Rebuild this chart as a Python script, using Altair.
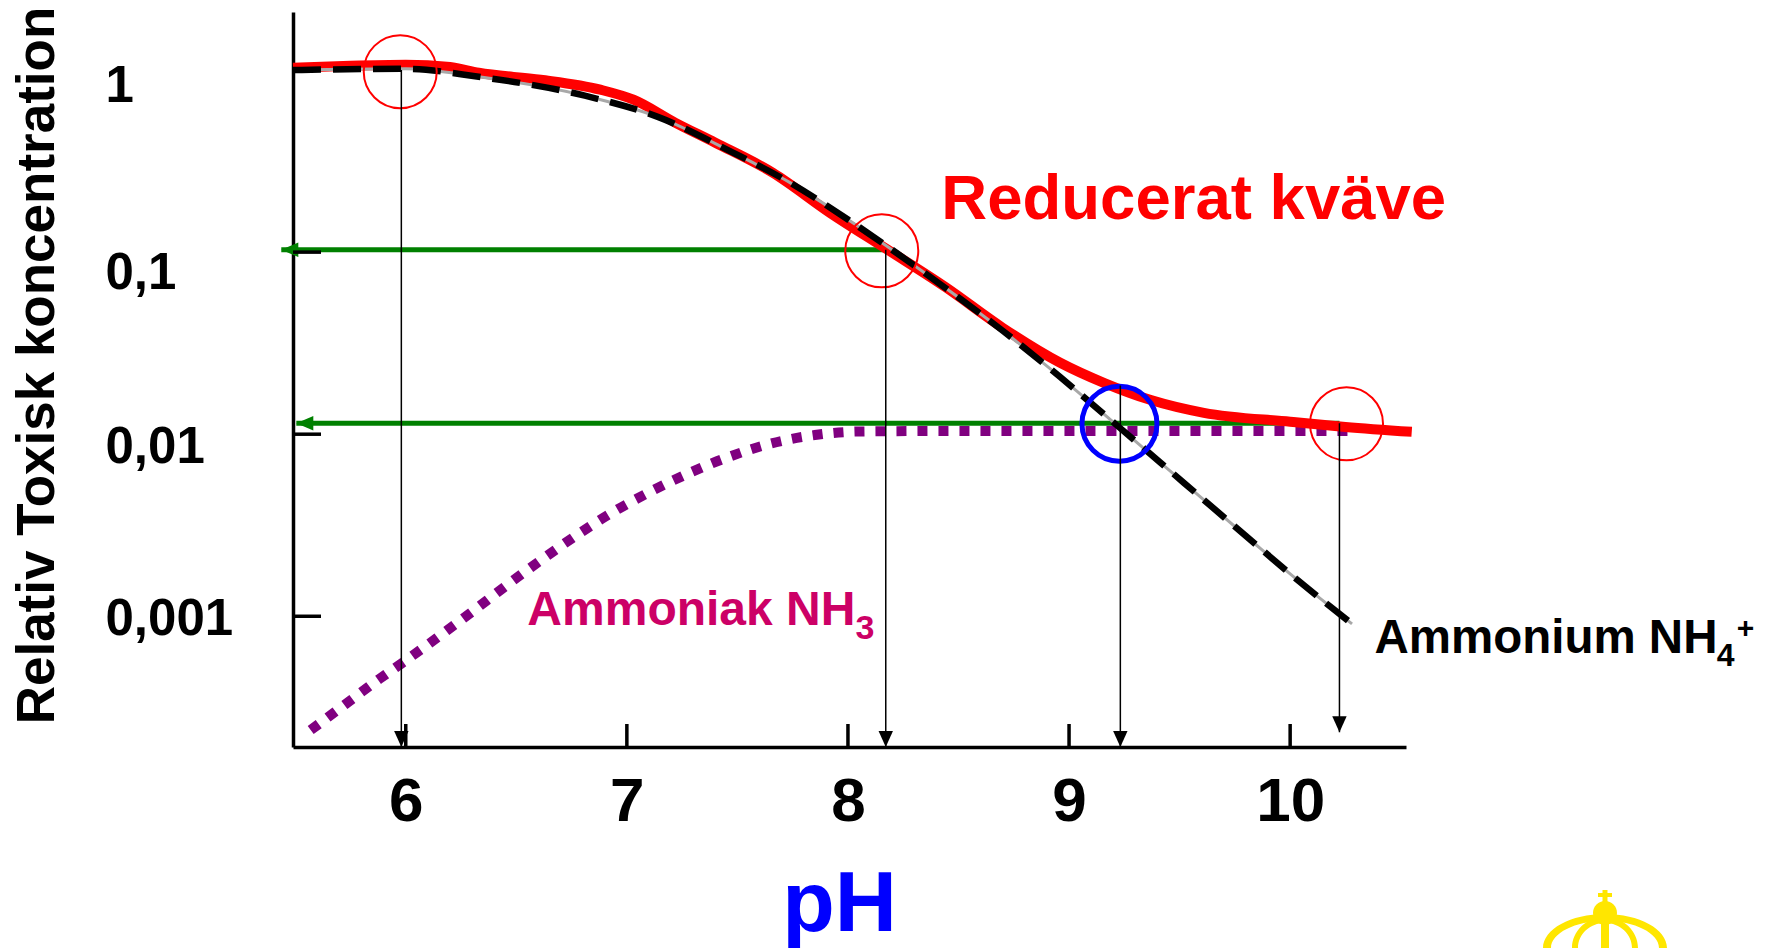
import altair as alt
import pandas as pd

# ---------------- data ----------------
x_domain = [5.49, 10.524]
y_domain = [1.914e-4, 2.084]
x_tick_values = [6, 7, 8, 9, 10]
x_tick_labels = ["6", "7", "8", "9", "10"]
y_tick_values = [1, 0.1, 0.01, 0.001]
y_tick_labels = ["1", "0,1", "0,01", "0,001"]

# Reducerat kväve (red solid)
red_ph = [5.49, 5.75, 6.00, 6.20, 6.33, 6.61, 6.88, 7.03, 7.22, 7.40, 7.66,
          7.92, 8.18, 8.44, 8.70, 8.96, 9.16, 9.37, 9.61, 10.00, 10.25, 10.55]
red_val = [1.03, 1.057, 1.07, 1.04, 0.966, 0.885, 0.78, 0.687, 0.513, 0.399,
           0.273, 0.164, 0.103, 0.0644, 0.0384, 0.0247, 0.0191, 0.0154,
           0.0131, 0.0117, 0.01096, 0.0103]

# Ammonium NH4+ (black dashed)
nh4_ph = [5.49, 6.00, 6.33, 6.81, 7.14, 7.48, 7.74, 8.00, 8.18, 8.44, 8.70,
          8.96, 9.23, 9.52, 9.80, 10.00, 10.28]
nh4_val = [1.0, 1.016, 0.918, 0.723, 0.553, 0.352, 0.240, 0.151, 0.107,
           0.0637, 0.0370, 0.0206, 0.01083, 0.0054, 0.00276, 0.00171, 0.000908]

# Ammoniak NH3 (purple dotted)
nh3_ph = [5.57, 5.72, 5.88, 5.98, 6.14, 6.30, 6.45, 6.63, 6.76, 6.92, 7.10,
          7.28, 7.46, 7.64, 7.85, 8.06, 8.50, 9.00, 9.50, 10.00, 10.28]
nh3_val = [2.37e-4, 3.24e-4, 4.52e-4, 5.50e-4, 7.59e-4, 1.06e-3, 1.46e-3,
           2.11e-3, 2.72e-3, 3.63e-3, 4.79e-3, 6.10e-3, 7.50e-3, 8.81e-3,
           9.89e-3, 1.035e-2, 1.042e-2, 1.042e-2, 1.042e-2, 1.042e-2, 1.042e-2]

# vertical black arrows (pH, from value, tip value)
varrow_ph = [5.98, 8.171, 9.232, 10.223]
varrow_top = [1.0, 0.103, 0.0185, 0.01148]
varrow_tip = [1.914e-4, 1.914e-4, 1.914e-4, 2.31e-4]

# horizontal green arrows (value, start pH, tip pH)
garrow_val = [0.103, 0.01148]
garrow_start = [8.171, 10.223]
garrow_tip = [5.437, 5.505]

# highlight circles
circle_ph = [5.975, 8.153, 10.255]
circle_val = [0.98, 0.1016, 0.0114]
blue_circle_ph = [9.228]
blue_circle_val = [0.0114]

# text annotations
red_text = ["Reducerat kväve"]
red_text_ph = [8.4225]
red_text_val = [0.1524]

nh3_text = ["Ammoniak NH"]
nh3_text_ph = [6.550]
nh3_text_val = [8.95e-4]
nh3_sub = ["3"]
nh3_sub_ph = [8.034]
nh3_sub_val = [7.50e-4]

nh4_text = ["Ammonium NH"]
nh4_text_ph = [10.381]
nh4_text_val = [6.25e-4]
nh4_sub = ["4"]
nh4_sub_ph = [11.93]
nh4_sub_val = [5.33e-4]
nh4_sup = ["+"]
nh4_sup_ph = [12.02]
nh4_sup_val = [7.55e-4]

# ---------------- styling ----------------
FONT = "Liberation Sans"
RED = "#FF0000"
GREEN = "#008000"
PURPLE = "#800080"
MAGENTA = "#CC0066"
BLUE = "#0000FF"
YELLOW = "#FFE600"


def label_expr(vals, labels):
    expr = "''"
    for v, lab in reversed(list(zip(vals, labels))):
        expr = f"abs(datum.value - {v}) < {abs(v) * 0.01} ? '{lab}' : ({expr})"
    return expr


x_scale = alt.Scale(domain=x_domain, nice=False, zero=False)
y_scale = alt.Scale(type="log", domain=y_domain, nice=False)

x_axis = alt.Axis(
    values=x_tick_values, labelExpr=label_expr(x_tick_values, x_tick_labels),
    title="pH", titleFont=FONT, titleFontSize=86, titleFontWeight="bold",
    titleColor=BLUE, titleX=546, titleY=183, titleAlign="center",
    titleBaseline="alphabetic",
    labelFont=FONT, labelFontSize=62, labelFontWeight="bold", labelColor="black",
    labelPadding=24, labelBaseline="top", labelFlush=False, labelOverlap=False,
    tickSize=0, domainColor="black", domainWidth=3.5, grid=False,
)
y_axis = alt.Axis(
    values=y_tick_values, labelExpr=label_expr(y_tick_values, y_tick_labels),
    title="Relativ Toxisk koncentration", titleFont=FONT, titleFontSize=53,
    titleFontWeight="bold", titleColor="black", titleAngle=270,
    titleX=-240, titleY=353, titleAlign="center", titleBaseline="alphabetic",
    labelFont=FONT, labelFontSize=51, labelFontWeight="bold", labelColor="black",
    labelAlign="left", labelBaseline="middle", labelPadding=188,
    labelOffset={"condition": [{"test": "datum.value >= 0.5", "value": 16},
                               {"test": "datum.value >= 0.05", "value": 21},
                               {"test": "datum.value >= 0.005", "value": 13}],
                 "value": 3},
    labelFlush=False, labelOverlap=False,
    tickSize=0, domainColor="black", domainWidth=3.5, grid=False,
)


def X(field):
    return alt.X(field, type="quantitative", scale=x_scale, axis=x_axis)


def Y(field):
    return alt.Y(field, type="quantitative", scale=y_scale, axis=y_axis)


# green horizontal arrows
g_df = pd.DataFrame({"v": garrow_val, "ph": garrow_start, "tip": garrow_tip})
green_lines = alt.Chart(g_df).mark_rule(color=GREEN, strokeWidth=5).encode(
    x=X("ph"), x2="tip", y=Y("v"))
green_heads = alt.Chart(g_df).mark_point(
    shape="M0,0L1,-0.43L1,0.43Z", filled=True, color=GREEN, opacity=1, size=1156,
    strokeWidth=0
).encode(x=X("tip"), y=Y("v"))

# curves
nh3_df = pd.DataFrame({"ph": nh3_ph, "v": nh3_val})
nh3_line = alt.Chart(nh3_df).mark_line(
    color=PURPLE, strokeWidth=10, strokeDash=[10, 11], strokeCap="butt",
    interpolate="monotone").encode(x=X("ph"), y=Y("v"))

red_df = pd.DataFrame({"ph": red_ph, "v": red_val})
red_line = alt.Chart(red_df).mark_line(
    color=RED, strokeWidth=10, interpolate="monotone").encode(x=X("ph"), y=Y("v"))

nh4_df = pd.DataFrame({"ph": nh4_ph, "v": nh4_val})
nh4_shadow = alt.Chart(nh4_df).mark_line(
    color="#a8a8a8", strokeWidth=3, interpolate="monotone").encode(x=X("ph"), y=Y("v"))
nh4_line = alt.Chart(nh4_df).mark_line(
    color="black", strokeWidth=6.5, strokeDash=[28, 12], interpolate="monotone"
).encode(x=X("ph"), y=Y("v"))

# circles
c_df = pd.DataFrame({"ph": circle_ph, "v": circle_val})
red_circles = alt.Chart(c_df).mark_point(
    shape="circle", filled=False, color=RED, strokeWidth=2, size=5329, opacity=1
).encode(x=X("ph"), y=Y("v"))
b_df = pd.DataFrame({"ph": blue_circle_ph, "v": blue_circle_val})
blue_circle = alt.Chart(b_df).mark_point(
    shape="circle", filled=False, color=BLUE, strokeWidth=5, size=5625, opacity=1
).encode(x=X("ph"), y=Y("v"))

# vertical arrows
v_df = pd.DataFrame({"ph": varrow_ph, "v": varrow_top, "tip": varrow_tip})
v_lines = alt.Chart(v_df).mark_rule(color="black", strokeWidth=1.5).encode(
    x=X("ph"), y=Y("v"), y2="tip")
v_heads = alt.Chart(v_df).mark_point(
    shape="M0,0L-0.45,-1L0.45,-1Z", filled=True, color="black", opacity=1, size=1024,
    strokeWidth=0
).encode(x=X("ph"), y=Y("tip"))

# inward axis ticks
xt_df = pd.DataFrame({"ph": x_tick_values, "v": [y_domain[0]] * len(x_tick_values)})
x_ticks = alt.Chart(xt_df).mark_point(
    shape="M0,0L0,-1", filled=False, color="black", strokeWidth=3.5, size=2116,
    opacity=1).encode(x=X("ph"), y=Y("v"))
yt_df = pd.DataFrame({"ph": [x_domain[0]] * len(y_tick_values), "v": y_tick_values})
y_ticks = alt.Chart(yt_df).mark_point(
    shape="M0,0L1,0", filled=False, color="black", strokeWidth=3.5, size=3136,
    opacity=1).encode(x=X("ph"), y=Y("v"))


def text_layer(texts, phs, vals, size, color):
    df = pd.DataFrame({"t": texts, "ph": phs, "v": vals})
    return alt.Chart(df).mark_text(
        font=FONT, fontSize=size, fontWeight="bold", color=color,
        align="left", baseline="alphabetic"
    ).encode(x=X("ph"), y=Y("v"), text="t")


texts = [
    text_layer(red_text, red_text_ph, red_text_val, 63.5, RED),
    text_layer(nh3_text, nh3_text_ph, nh3_text_val, 48, MAGENTA),
    text_layer(nh3_sub, nh3_sub_ph, nh3_sub_val, 34, MAGENTA),
    text_layer(nh4_text, nh4_text_ph, nh4_text_val, 47.5, "black"),
    text_layer(nh4_sub, nh4_sub_ph, nh4_sub_val, 32, "black"),
    text_layer(nh4_sup, nh4_sup_ph, nh4_sup_val, 30, "black"),
]

# decorative yellow emblem partly visible in the lower right corner
logo_parts = [
    # dome band
    "M-62,0A62,34 0 0 1 62,0L54,0A54,27 0 0 0 -54,0Z",
    # inner meridian band
    "M-33,0A33,31 0 0 1 33,0L27,0A27,25 0 0 0 -27,0Z",
    # centre bar
    "M-4,-27L4,-27L4,0L-4,0Z",
    # orb
    "M-12,-35A12,12 0 1 1 12,-35A12,12 0 1 1 -12,-35Z",
    # cross
    "M-2.5,-58L2.5,-58L2.5,-46L-2.5,-46Z",
    "M-7,-55L7,-55L7,-51L-7,-51Z",
]
logo_layers = [
    alt.Chart(pd.DataFrame({"k": [0]})).mark_point(
        shape=p, filled=True, color=YELLOW, opacity=1, size=4, strokeWidth=0
    ).encode(x=alt.value(1312), y=alt.value(936))
    for p in logo_parts
]

chart = alt.layer(
    green_lines, green_heads, nh3_line, red_line, nh4_shadow, nh4_line,
    red_circles, blue_circle, v_lines, v_heads, x_ticks, y_ticks, *texts,
    *logo_layers
).properties(
    width=1113, height=735,
    autosize=alt.AutoSizeParams(type="none"),
    padding={"left": 293, "top": 12, "right": 367, "bottom": 201},
    background="white",
).configure_view(stroke=None)

chart.save("out.html", embed_options={"renderer": "svg", "actions": False})
